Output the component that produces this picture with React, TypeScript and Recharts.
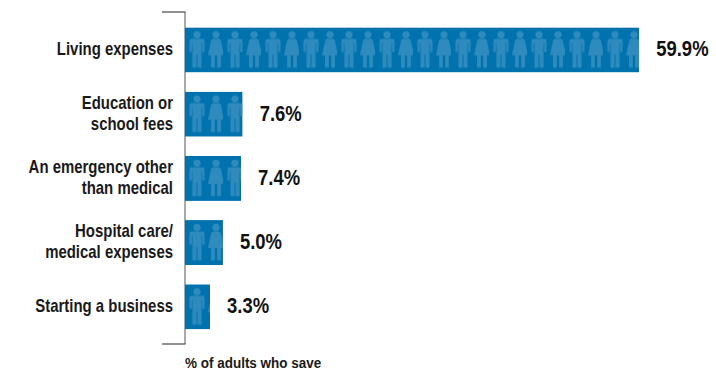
import React from "react";
import { BarChart, Bar, XAxis, YAxis, LabelList, usePlotArea } from "recharts";

const categories = [
  "Living expenses",
  "Education or\nschool fees",
  "An emergency other\nthan medical",
  "Hospital care/\nmedical expenses",
  "Starting a business",
];
const values = [59.9, 7.6, 7.4, 5.0, 3.3];
const rows = categories.map((name, i) => ({ name, value: values[i] }));
const footnote = "% of adults who save";

const FONT = "'Liberation Sans', sans-serif";
const BAR = "#0072ae";
const ICON = "#2f8bbd";

const MultiTick = (props: any) => {
  const { x, y, payload } = props;
  const lines = String(payload.value).split("\n");
  const lh = 21;
  const start = y - ((lines.length - 1) * lh) / 2 + 5.5;
  return (
    <g transform={`translate(${x - 4},0) scale(0.83,1)`}>
      <text textAnchor="end" fontFamily={FONT} fontWeight={700} fontSize={18} fill="#1a1a1a">
        {lines.map((l, i) => (
          <tspan key={i} x={0} y={start + i * lh}>{l}</tspan>
        ))}
      </text>
    </g>
  );
};

const ValueLabel = (props: any) => {
  const { x, y, width, height, value } = props;
  return (
    <g transform={`translate(${x + width + 17},0) scale(0.82,1)`}>
      <text y={y + height / 2 + 6.5} fontFamily={FONT} fontWeight={700} fontSize={22.5} fill="#111">
        {`${Number(value).toFixed(1)}%`}
      </text>
    </g>
  );
};

const PeopleBar = (props: any) => {
  const { x, y, width, height } = props;
  return (
    <svg x={x} y={y} width={width} height={height}>
      <rect width={width} height={height} fill={BAR} />
      <rect width={width} height={height} fill="url(#people)" />
    </svg>
  );
};

const Decor = () => {
  const p = usePlotArea();
  if (!p) return null;
  const L = p.x;
  const T = p.y;
  const B = p.y + p.height;
  return (
    <g>
      <line x1={L - 23} x2={L + 0.5} y1={T} y2={T} stroke="#222" strokeWidth={1} />
      <line x1={L - 23} x2={L + 0.5} y1={B} y2={B} stroke="#222" strokeWidth={1} />
      <g transform={`translate(${L},0) scale(0.87,1)`}>
        <text x={0} y={B + 24.5} fontFamily={FONT} fontWeight={700} fontSize={15.5} fill="#1a1a1a">{footnote}</text>
      </g>
    </g>
  );
};

export default function App() {
  return (
    <div style={{ position: "absolute", left: 0, top: 0, width: 716, height: 372 }}>
      <BarChart
        width={716}
        height={372}
        data={rows}
        layout="vertical"
        margin={{ top: 12, right: 76, bottom: 28, left: 0 }}
      >
        <defs>
          <pattern id="people" patternUnits="userSpaceOnUse" x={0} y={0} width={38} height={45}>
            <circle cx={12} cy={7.3} r={3.6} fill={ICON} />
            <path
              d="M6.5 11.5H17.5Q19.5 11.5 19.5 13.5V24.5H17.2V15.5H16.5V40.3H12.5V27H11.5V40.3H7.5V15.5H6.8V24.5H4.5V13.5Q4.5 11.5 6.5 11.5Z"
              fill={ICON}
            />
            <circle cx={31} cy={7.3} r={3.6} fill={ICON} />
            <path
              d="M28 11.5H34Q35.3 11.5 35.8 13L39 28H35.9V40.3H32.2V28H29.8V40.3H26.1V28H23L26.2 13Q26.7 11.5 28 11.5Z"
              fill={ICON}
            />
          </pattern>
        </defs>
        <XAxis type="number" domain={[0, 60]} hide />
        <YAxis
          type="category"
          dataKey="name"
          width={185}
          interval={0}
          padding={{ top: 5.4, bottom: 5.4 }}
          axisLine={{ stroke: "#555", strokeWidth: 1 }}
          tickLine={false}
          tick={<MultiTick />}
        />
        <Bar dataKey="value" barSize={45} isAnimationActive={false} shape={<PeopleBar />}>
          <LabelList dataKey="value" content={<ValueLabel />} />
        </Bar>
        <Decor />
      </BarChart>
    </div>
  );
}
